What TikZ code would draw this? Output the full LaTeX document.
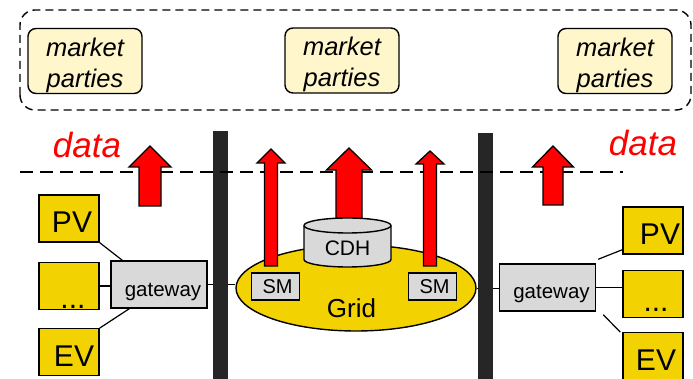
\documentclass[tikz,border=0pt]{standalone}
\usepackage{fontspec}
\setmainfont{Liberation Sans}
\usetikzlibrary{positioning}
\usetikzlibrary{shapes.geometric}

\definecolor{devyellow}{RGB}{242,210,0}
\definecolor{mpyellow}{RGB}{255,246,204}
\definecolor{boxgray}{RGB}{217,217,217}
\definecolor{bardark}{RGB}{38,38,38}

% block arrow: x, tip, head base, bottom, head half width, shaft half width
\newcommand{\dataarrow}[6]{%
  \draw[arrowbody] (#1-#6,#4) -- (#1-#6,#3) -- (#1-#5,#3) -- (#1,#2)
    -- (#1+#5,#3) -- (#1+#6,#3) -- (#1+#6,#4) -- cycle;}

\begin{document}
\begin{tikzpicture}[x=1pt,y=1pt,
  mpbox/.style={draw,line width=1.4pt,rounded corners=8pt,fill=mpyellow,
    minimum width=114pt,minimum height=65pt},
  mptext/.style={align=center,font=\itshape\fontsize{25.5}{31}\selectfont},
  devbox/.style={draw,line width=1.4pt,fill=devyellow,inner sep=0pt,
    minimum width=60pt,minimum height=47pt,
    font=\fontsize{30}{36}\selectfont,text height=29pt,text depth=0pt},
  gwbox/.style={draw,line width=1.4pt,fill=boxgray,inner sep=0pt,
    minimum width=96pt,minimum height=47pt,
    font=\fontsize{20.5}{24}\selectfont,text height=25pt,text depth=0pt},
  smbox/.style={draw,line width=1.4pt,fill=boxgray,inner sep=0pt,
    minimum width=48pt,minimum height=27pt,font=\fontsize{20}{24}\selectfont},
  datalabel/.style={text=red,font=\itshape\fontsize{35}{42}\selectfont,anchor=base},
  arrowbody/.style={draw,line width=1.3pt,fill=red,line join=miter},
  bar/.style={fill=bardark,inner sep=0pt,minimum width=15pt,anchor=south},
  link/.style={line width=1.2pt}]

  \useasboundingbox (0,0) rectangle (693,379);

  % market side
  \draw[line width=1.4pt,dash pattern=on 8pt off 5pt,rounded corners=15pt]
    (20,269) rectangle (691,369);
  \node[mpbox] (mpL) at (85,318) {};
  \node[mpbox] (mpM) at (342,318.5) {};
  \node[mpbox] (mpR) at (615,318) {};
  \node[mptext] (mpLtxt) at ([yshift=-4pt]mpL.center) {market\\parties};
  \node[mptext] (mpMtxt) at ([yshift=-4pt]mpM.center) {market\\parties};
  \node[mptext] (mpRtxt) at ([yshift=-4pt]mpR.center) {market\\parties};

  \node[datalabel] (dataL) at (87,221) {data};
  \node[datalabel] (dataR) at (643,223) {data};

  % grid
  \node[ellipse,draw,line width=1.4pt,fill=devyellow,inner sep=0pt,
    minimum width=240pt,minimum height=86pt] (grid) at (356,91) {};
  \node[font=\fontsize{26}{31}\selectfont] (gridlbl) at (351.5,70.5) {Grid};
  \node[smbox] (smL) at (275.5,92.5) {\hspace{4pt}SM};
  \node[smbox] (smR) at (432.5,92.5) {\hspace{4pt}SM};

  % home side left
  \node[gwbox] (gwL) at (159,94.5) {\hspace{8pt}gateway};
  \node[devbox] (pvL) at (69,160.5) {\hspace{6pt}PV};
  \node[devbox,text height=46pt,below=19pt of pvL] (dotsL) {\hspace{8pt}...};
  \node[devbox,below=18pt of dotsL] (evL) {\hspace{10pt}EV};

  % home side right
  \node[gwbox,text height=23pt] (gwR) at (547.5,91.5) {\hspace{8pt}gateway};
  \node[devbox] (pvR) at (653,148.5) {\hspace{14pt}PV};
  \node[devbox,text height=36pt,below=15pt of pvR] (dotsR) {\hspace{6pt}...};
  \node[devbox,below=14pt of dotsR] (evR) {\hspace{6pt}EV};

  \draw[link] (pvL.south east) -- ([xshift=12pt]gwL.north west);
  \draw[link,line width=2.4pt] (dotsL.east) -- (dotsL.east -| gwL.west);
  \draw[link] (evL.north east) -- ([xshift=19pt]gwL.south west);
  \draw[link] ([shift={(2pt,4pt)}]gwR.north east) -- ([yshift=5pt]pvR.south west);
  \draw[link] (gwR.east) -- (gwR.east -| dotsR.west);
  \draw[link] ([shift={(7pt,-3pt)}]gwR.south east) -- ([xshift=-2pt]evR.north west);

  \draw[line width=0.8pt] (gwL.east) -- (gwL.east -| grid.west);
  \draw[line width=0.8pt] (grid.east) -- (grid.east -| gwR.west);

  % separators
  \node[bar,minimum height=248pt] (barL) at (220.5,0) {};
  \node[bar,minimum height=246pt] (barR) at (485.5,0) {};

  \draw[line width=1.2pt,dash pattern=on 13pt off 7pt] (20,207) -- (623,207);

  % data flows
  \dataarrow{150}{233}{212}{173}{21}{11}
  \dataarrow{271}{230}{216}{113}{14}{6.5}
  \dataarrow{349}{231}{209}{150}{22.5}{13}
  \dataarrow{430}{228}{215}{113}{14}{6.5}
  \dataarrow{553}{233}{212}{174}{20.5}{10}

  % data hub
  \draw[line width=1.4pt,fill=boxgray] (304,119.5)
    arc[start angle=180,end angle=360,x radius=43.5,y radius=7.5] -- (391,153.5)
    arc[start angle=0,end angle=180,x radius=43.5,y radius=7.5] -- cycle;
  \draw[line width=1.4pt] (304,153.5)
    arc[start angle=180,end angle=360,x radius=43.5,y radius=7.5];
  \node[font=\fontsize{21}{25}\selectfont] (cdh) at (347.5,131) {CDH};
\end{tikzpicture}
\end{document}
